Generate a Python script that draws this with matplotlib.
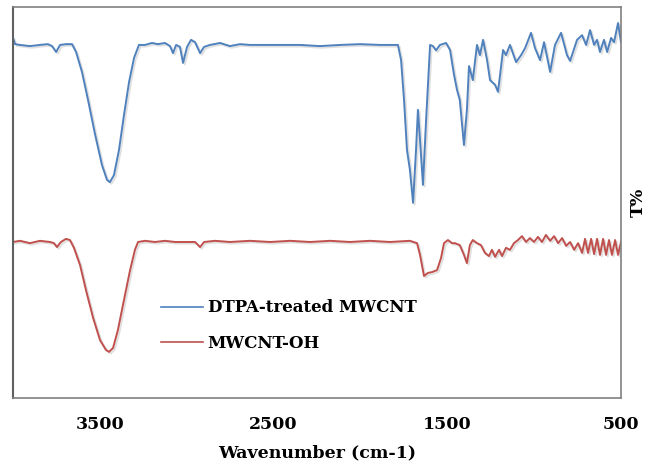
import numpy as np
import matplotlib
matplotlib.use("Agg")
import matplotlib.pyplot as plt
import matplotlib.patheffects as pe

# wavenumber (cm-1) / transmittance (arb. %)
wn_dtpa = [4000, 3988, 3960, 3902, 3845, 3799, 3775, 3752, 3729, 3695, 3660, 3637,
           3603, 3568, 3528, 3488, 3459, 3442, 3419, 3390, 3361, 3332, 3303, 3275,
           3240, 3200, 3165, 3125, 3096, 3079, 3061, 3039, 3021, 2998, 2975, 2952,
           2923, 2900, 2866, 2808, 2751, 2693, 2636, 2578, 2463, 2348, 2233, 2117,
           2002, 1887, 1830, 1784, 1766, 1749, 1732, 1715, 1697, 1680, 1669, 1657,
           1640, 1622, 1599, 1582, 1565, 1542, 1507, 1484, 1461, 1444, 1428, 1404,
           1387, 1375, 1353, 1329, 1312, 1294, 1271, 1254, 1225, 1208, 1179, 1162,
           1139, 1104, 1075, 1052, 1018, 995, 966, 943, 908, 880, 845, 811, 793,
           753, 724, 701, 678, 655, 638, 621, 598, 580, 557, 540, 517, 500]
t_dtpa = [92.1, 90.5, 90.3, 90.0, 90.3, 90.5, 90.0, 88.5, 90.3, 90.5, 90.5, 88.5,
          83.4, 76.2, 67.5, 59.6, 55.8, 55.2, 57.0, 63.4, 72.4, 80.8, 87.0, 90.3,
          90.3, 90.8, 90.5, 90.8, 90.0, 88.2, 90.3, 89.8, 85.7, 89.8, 91.6, 91.0,
          88.2, 89.8, 90.3, 90.8, 90.0, 90.5, 90.3, 90.3, 90.3, 90.3, 90.0, 90.3,
          90.5, 90.3, 90.3, 90.3, 86.4, 76.2, 63.4, 58.3, 49.9, 63.4, 73.7, 66.0,
          54.5, 71.1, 90.3, 90.0, 88.9, 90.3, 90.8, 89.0, 82.6, 78.8, 76.2, 64.7,
          73.7, 84.9, 81.3, 90.3, 87.7, 91.6, 86.4, 81.3, 80.1, 78.3, 89.0, 87.7,
          90.3, 85.9, 87.7, 89.5, 93.4, 89.5, 86.4, 91.0, 83.4, 90.3, 93.4, 87.7, 86.2,
          91.6, 92.8, 90.3, 94.1, 90.3, 91.6, 88.5, 91.6, 88.5, 92.1, 91.0, 95.9, 91.0]

wn_oh = [4000, 3960, 3902, 3845, 3787, 3764, 3747, 3724, 3695, 3672, 3649, 3614,
         3580, 3539, 3499, 3465, 3447, 3424, 3396, 3361, 3326, 3298, 3280, 3240,
         3183, 3125, 3067, 3010, 2952, 2923, 2900, 2837, 2751, 2636, 2520, 2405,
         2290, 2175, 2060, 1945, 1830, 1715, 1674, 1657, 1634, 1611, 1588, 1559,
         1536, 1519, 1496, 1473, 1456, 1428, 1404, 1387, 1370, 1353, 1329, 1306,
         1283, 1260, 1243, 1225, 1202, 1185, 1162, 1139, 1116, 1093, 1070, 1047,
         1024, 1001, 978, 955, 932, 908, 885, 862, 839, 816, 793, 770, 747, 724,
         707, 690, 672, 655, 638, 621, 603, 586, 569, 552, 534, 517, 500]
t_oh = [39.9, 40.2, 39.6, 40.2, 39.9, 39.6, 38.6, 39.9, 40.7, 40.4, 38.4, 34.0,
        27.6, 20.5, 14.8, 12.3, 11.8, 12.8, 17.4, 25.1, 32.7, 37.9, 39.9, 40.2,
        39.9, 40.2, 39.9, 39.9, 39.9, 38.6, 39.9, 40.2, 39.9, 40.2, 39.9, 40.2,
        39.9, 40.2, 39.9, 40.2, 39.9, 40.2, 39.6, 36.6, 31.2, 32.0, 32.2, 32.7,
        35.8, 39.6, 40.4, 39.6, 39.6, 39.1, 36.6, 34.5, 39.1, 40.4, 39.6, 39.1,
        37.1, 36.3, 37.9, 36.1, 37.9, 36.3, 38.4, 37.9, 39.6, 40.4, 41.4, 39.9,
        40.9, 39.9, 41.2, 39.9, 41.7, 40.2, 41.4, 39.6, 40.9, 38.9, 39.9, 37.9, 39.6, 37.1,
        40.7, 37.1, 40.7, 36.8, 40.7, 36.6, 40.7, 36.6, 40.4, 36.6, 40.4, 36.6, 39.9]

xticks = [3500, 2500, 1500, 500]
labels = ["DTPA-treated MWCNT", "MWCNT-OH"]
blue = "#4F81BD"
red = "#C0504D"

plt.rcParams['font.family'] = ['DejaVu Serif']
plt.rcParams['font.weight'] = 'bold'

fig = plt.figure(figsize=(6.56, 4.70), dpi=100)
ax = fig.add_axes([13/656, 1 - 398/470, 608/656, 391/470])

shadow = [pe.SimpleLineShadow(offset=(1.2, -1.2), alpha=0.12, shadow_color='k'), pe.Normal()]
l1, = ax.plot(wn_dtpa, t_dtpa, color=blue, lw=1.4, label=labels[0], path_effects=shadow)
l2, = ax.plot(wn_oh, t_oh, color=red, lw=1.4, label=labels[1], path_effects=shadow)

ax.set_xlim(4000, 500)
ax.set_ylim(0, 100)
ax.set_xticks(xticks)
ax.set_xticklabels([str(v) for v in xticks], fontsize=12.5, fontweight='bold')
ax.set_yticks([])
ax.tick_params(axis='x', length=0, pad=13)

ax.set_xlabel("Wavenumber (cm-1)", fontsize=12.5, fontweight='bold', labelpad=8)
ax.yaxis.set_label_position('right')
ax.set_ylabel("T%", fontsize=12.5, fontweight='bold', labelpad=6)

for side in ['top', 'right', 'bottom']:
    ax.spines[side].set_color('#808080')
    ax.spines[side].set_linewidth(1.2)
ax.spines['left'].set_color('#606060')
ax.spines['left'].set_linewidth(1.5)

leg = ax.legend(loc='center left', bbox_to_anchor=(148/608, 0.185), frameon=False,
                prop={'size': 12, 'weight': 'bold'}, handlelength=2.5,
                handletextpad=0.3, labelspacing=1.1, borderpad=0, borderaxespad=0)
for h in leg.get_lines():
    h.set_linewidth(1.2)
    h.set_path_effects([])

fig.savefig("out.png", dpi=100)
